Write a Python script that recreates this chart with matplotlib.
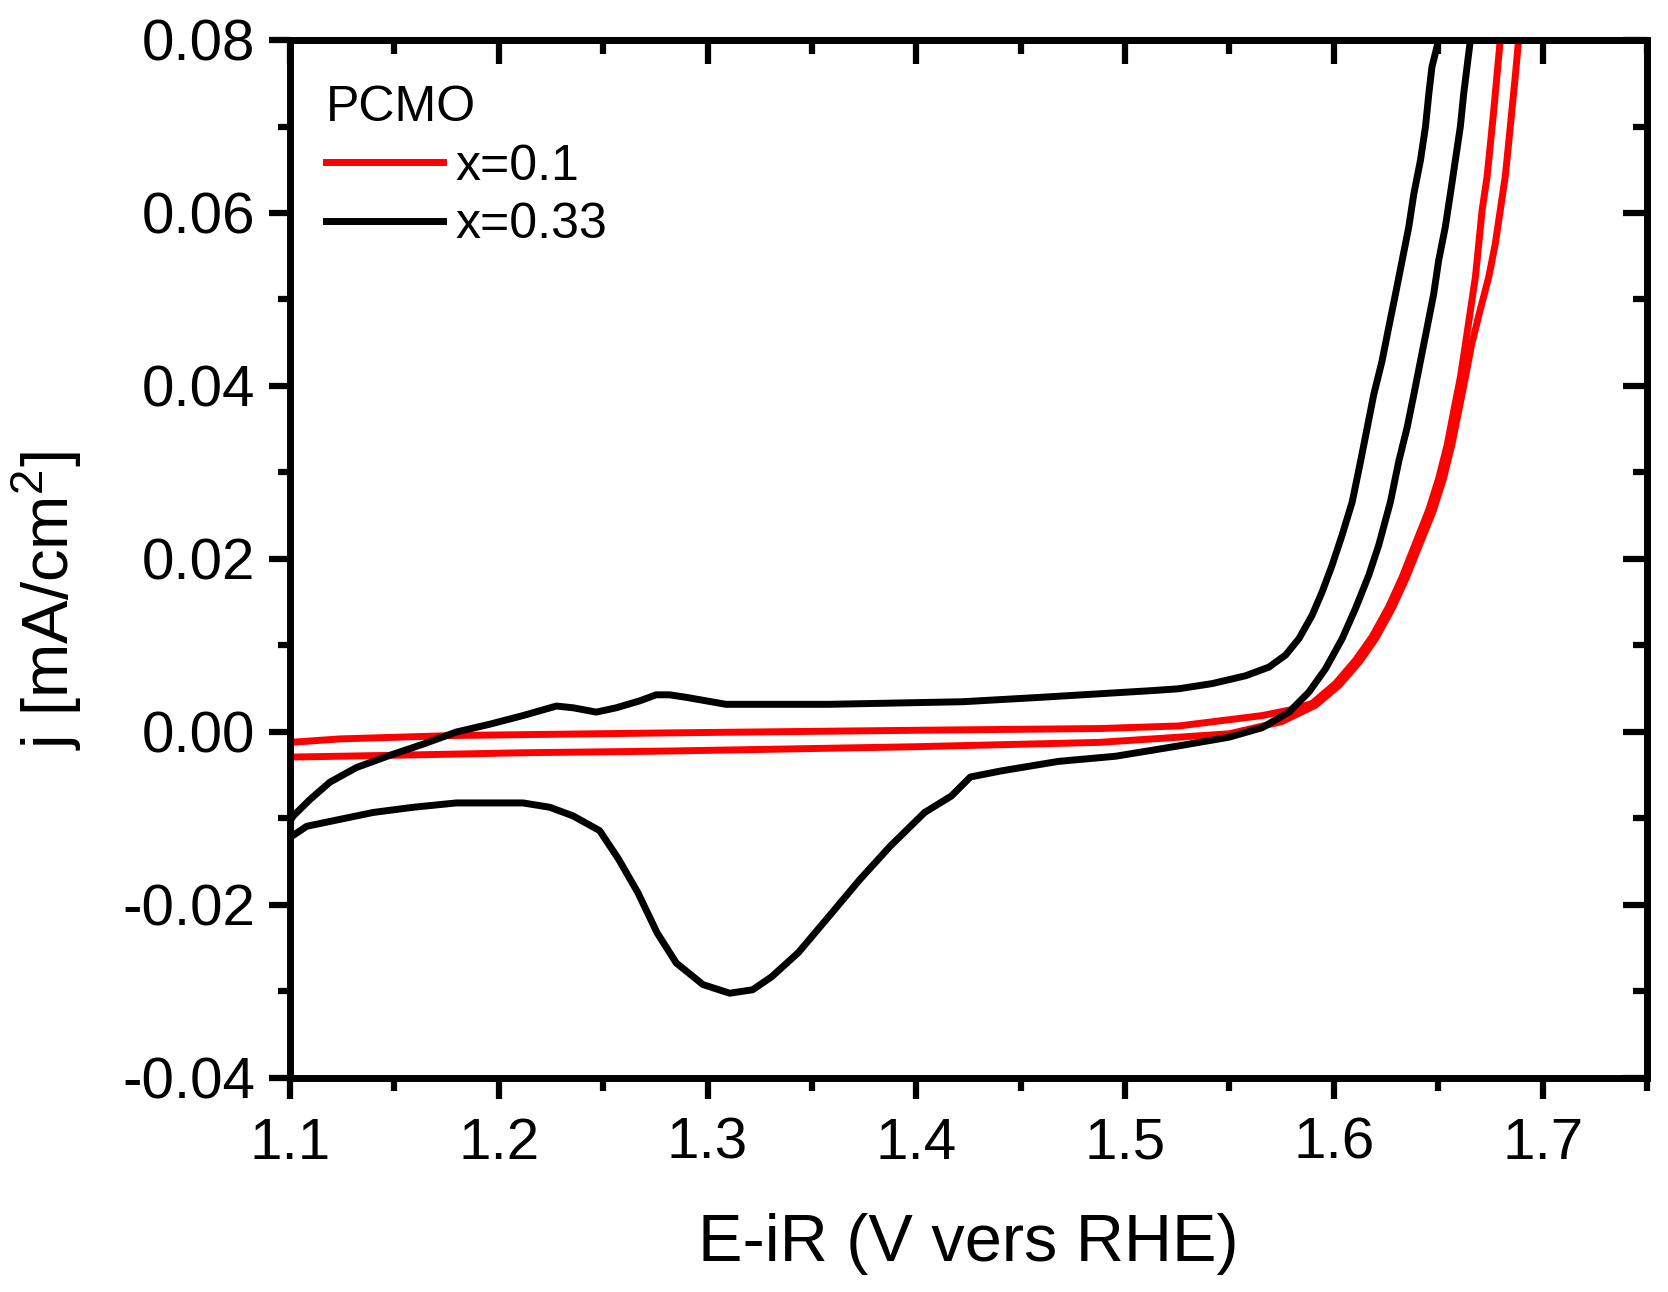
import matplotlib
matplotlib.use("Agg")
import matplotlib.pyplot as plt
from matplotlib.ticker import MultipleLocator, FormatStrFormatter

# ---- data ----
# PCMO x=0.33, anodic (forward) sweep
black_fwd_v = [1.1000, 1.1016, 1.1096, 1.1191, 1.1319, 1.1478, 1.1638, 1.1797, 1.1957, 1.2116,
               1.2276, 1.2356, 1.2467, 1.2563, 1.2675, 1.2754, 1.2818, 1.2900, 1.3088, 1.3582,
               1.4223, 1.4589, 1.4864, 1.5139, 1.5258, 1.5418, 1.5577, 1.5689, 1.5769, 1.5833,
               1.5896, 1.5944, 1.5992, 1.6040, 1.6088, 1.6128, 1.6160, 1.6191, 1.6231, 1.6263,
               1.6295, 1.6327, 1.6359, 1.6383, 1.6415, 1.6439, 1.6455, 1.6470, 1.6502]
black_fwd_j = [-0.0103, -0.0097, -0.0078, -0.0058, -0.0041, -0.0027, -0.0014, 0.0000, 0.0009, 0.0019,
               0.0030, 0.0028, 0.0023, 0.0028, 0.0036, 0.0043, 0.0043, 0.0040, 0.0032, 0.0032,
               0.0035, 0.0040, 0.0044, 0.0048, 0.0050, 0.0056, 0.0065, 0.0075, 0.0089, 0.0108,
               0.0135, 0.0162, 0.0193, 0.0228, 0.0266, 0.0313, 0.0352, 0.0390, 0.0429, 0.0468,
               0.0506, 0.0545, 0.0584, 0.0622, 0.0661, 0.0700, 0.0738, 0.0769, 0.0800]
# PCMO x=0.33, cathodic (reverse) sweep
black_rev_v = [1.6654, 1.6638, 1.6622, 1.6606, 1.6582, 1.6558, 1.6534, 1.6502, 1.6478, 1.6447,
               1.6415, 1.6383, 1.6351, 1.6311, 1.6271, 1.6215, 1.6167, 1.6104, 1.6040, 1.5960,
               1.5880, 1.5785, 1.5657, 1.5498, 1.5258, 1.4955, 1.4680, 1.4406, 1.4259, 1.4168,
               1.4040, 1.3875, 1.3728, 1.3582, 1.3435, 1.3307, 1.3216, 1.3106, 1.2978, 1.2850,
               1.2758, 1.2667, 1.2574, 1.2483, 1.2356, 1.2244, 1.2116, 1.1797, 1.1590, 1.1399,
               1.1239, 1.1080, 1.1000]
black_rev_j = [0.0800, 0.0769, 0.0738, 0.0700, 0.0661, 0.0622, 0.0584, 0.0545, 0.0506, 0.0468,
               0.0429, 0.0390, 0.0352, 0.0313, 0.0266, 0.0216, 0.0181, 0.0143, 0.0108, 0.0073,
               0.0046, 0.0023, 0.0005, -0.0006, -0.0016, -0.0028, -0.0034, -0.0045, -0.0052, -0.0074,
               -0.0093, -0.0132, -0.0171, -0.0213, -0.0255, -0.0283, -0.0298, -0.0302, -0.0292, -0.0267,
               -0.0232, -0.0186, -0.0147, -0.0114, -0.0097, -0.0087, -0.0082, -0.0082, -0.0087, -0.0093,
               -0.0101, -0.0109, -0.0122]
# PCMO x=0.1, forward sweep
red_fwd_v = [1.1000, 1.1239, 1.1797, 1.2818, 1.4000, 1.4876, 1.5258, 1.5657, 1.5800, 1.5896,
             1.6008, 1.6104, 1.6183, 1.6263, 1.6327, 1.6391, 1.6455, 1.6502, 1.6543, 1.6574,
             1.6606, 1.6630, 1.6654, 1.6678, 1.6694, 1.6710, 1.6734, 1.6750, 1.6766, 1.6781,
             1.6797]
red_fwd_j = [-0.0012, -0.0008, -0.0004, -0.0001, 0.0002, 0.0004, 0.0007, 0.0019, 0.0026, 0.0033,
             0.0056, 0.0083, 0.0110, 0.0145, 0.0179, 0.0218, 0.0257, 0.0293, 0.0332, 0.0371,
             0.0410, 0.0448, 0.0487, 0.0526, 0.0564, 0.0603, 0.0642, 0.0680, 0.0719, 0.0758,
             0.0800]
# PCMO x=0.1, reverse sweep
red_rev_v = [1.6885, 1.6869, 1.6853, 1.6837, 1.6821, 1.6797, 1.6773, 1.6742, 1.6700, 1.6660,
             1.6630, 1.6598, 1.6565, 1.6525, 1.6475, 1.6410, 1.6345, 1.6280, 1.6200, 1.6122,
             1.6025, 1.5912, 1.5750, 1.5500, 1.5258, 1.4876, 1.4000, 1.2818, 1.2116, 1.1478,
             1.1000]
red_rev_j = [0.0800, 0.0758, 0.0719, 0.0680, 0.0642, 0.0603, 0.0564, 0.0526, 0.0487, 0.0448,
             0.0410, 0.0371, 0.0332, 0.0293, 0.0255, 0.0216, 0.0177, 0.0143, 0.0108, 0.0081,
             0.0054, 0.0031, 0.0012, -0.0002, -0.0006, -0.0012, -0.0017, -0.0022, -0.0024, -0.0027,
             -0.0029]

labels = ["x=0.1", "x=0.33"]
legend_title = "PCMO"
x_label = "E-iR (V vers RHE)"
y_label = r"j [mA/cm$^2$]"

plt.rcParams['font.family'] = ['Liberation Sans', 'DejaVu Sans']
plt.rcParams['mathtext.fontset'] = 'custom'
plt.rcParams['mathtext.rm'] = 'Liberation Sans'

fig = plt.figure(figsize=(16.68, 12.92), dpi=100)
ax = fig.add_axes([290/1668, 1-1078/1292, (1647-290)/1668, (1078-40)/1292])

lw = 5
ax.plot(red_fwd_v, red_fwd_j, color='#ff0000', lw=lw, label=labels[0], solid_joinstyle='round')
ax.plot(red_rev_v, red_rev_j, color='#ff0000', lw=lw, solid_joinstyle='round')
ax.plot(black_fwd_v, black_fwd_j, color='black', lw=lw, label=labels[1], solid_joinstyle='round')
ax.plot(black_rev_v, black_rev_j, color='black', lw=lw, solid_joinstyle='round')

ax.set_xlim(1.1, 1.75)
ax.set_ylim(-0.04, 0.08)

ax.xaxis.set_major_locator(MultipleLocator(0.1))
ax.xaxis.set_minor_locator(MultipleLocator(0.05))
ax.yaxis.set_major_locator(MultipleLocator(0.02))
ax.yaxis.set_minor_locator(MultipleLocator(0.01))
ax.xaxis.set_major_formatter(FormatStrFormatter('%.1f'))
ax.yaxis.set_major_formatter(FormatStrFormatter('%.2f'))

for s in ax.spines.values():
    s.set_linewidth(5)

ax.tick_params(which='both', direction='out', width=4.5, labelsize=42, top=False, right=False)
ax.tick_params(which='major', length=15)
ax.tick_params(which='minor', length=9)
ax.tick_params(axis='x', pad=13)
ax.tick_params(axis='y', pad=10)

# top / right inward ticks
secx = ax.secondary_xaxis('top')
secx.xaxis.set_major_locator(MultipleLocator(0.1))
secx.xaxis.set_minor_locator(MultipleLocator(0.05))
secx.tick_params(which='both', direction='in', width=4.5, labeltop=False)
secx.tick_params(which='major', length=17)
secx.tick_params(which='minor', length=10)
secx.spines['top'].set_linewidth(5)
secy = ax.secondary_yaxis('right')
secy.yaxis.set_major_locator(MultipleLocator(0.02))
secy.yaxis.set_minor_locator(MultipleLocator(0.01))
secy.tick_params(which='both', direction='in', width=4.5, labelright=False)
secy.tick_params(which='major', length=17)
secy.tick_params(which='minor', length=10)
secy.spines['right'].set_linewidth(5)

ax.set_xlabel(x_label, fontsize=48, labelpad=30)
ax.set_ylabel(y_label, fontsize=47)
ax.yaxis.set_label_coords(-0.152, 0.46)

leg = ax.legend(title=legend_title, loc='upper left', bbox_to_anchor=(-0.007, 1.0),
                frameon=False, fontsize=36, title_fontsize=36, handlelength=2.35,
                handletextpad=0.25, labelspacing=0.25, alignment='left')
for h in leg.get_lines():
    h.set_linewidth(5)

fig.savefig("out.png", dpi=100)
